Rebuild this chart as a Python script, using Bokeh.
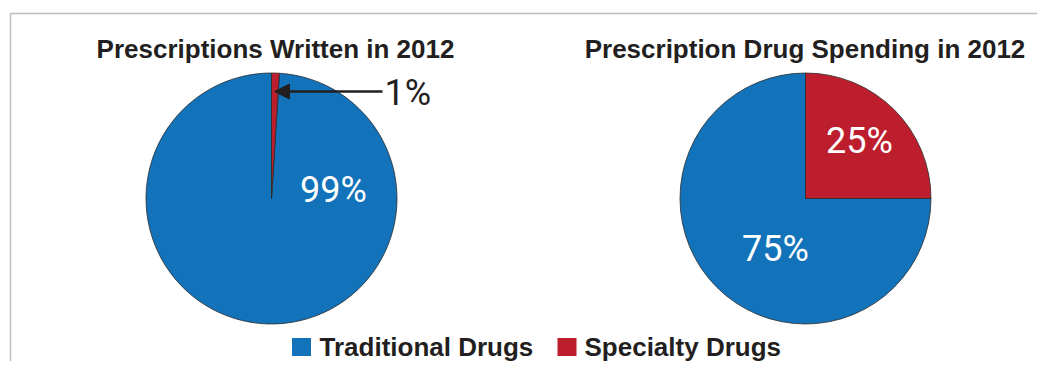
import math
from bokeh.plotting import figure
from bokeh.models import Range1d, Arrow, NormalHead, BoxAnnotation, ColumnDataSource
from bokeh.core.properties import value
from bokeh.embed import file_html
from bokeh.resources import INLINE

# ---- data ----
categories = ["Traditional Drugs", "Specialty Drugs"]
colors = ["#1273bb", "#bc1e2d"]
written_2012 = [99, 1]
spending_2012 = [75, 25]
titles = ["Prescriptions Written in 2012", "Prescription Drug Spending in 2012"]

# ---- layout (reference pixel coordinates) ----
W, H = 1037, 361
def Y(y):
    return H - y

pie_cx = [271, 805]
pie_cy = 198
pie_r = 125.5

p = figure(width=W, height=H, x_range=Range1d(0, W), y_range=Range1d(0, H),
           output_backend="svg", toolbar_location=None, min_border=0)
p.axis.visible = False
p.grid.visible = False
p.outline_line_color = None
p.background_fill_color = "white"
p.border_fill_color = "white"

# frame (left + top lines)
p.add_layout(BoxAnnotation(left=10, top=Y(13), right=1300, bottom=-200,
                           fill_alpha=0, line_color="#231f20", line_width=1.4))

label_font = value("Roboto")
title_font = value("Liberation Sans")

for i, vals in enumerate([written_2012, spending_2012]):
    total = float(sum(vals))
    frac_spec = vals[1] / total
    top = math.pi / 2
    starts = [top, top - 2 * math.pi * frac_spec]
    ends = [top - 2 * math.pi * frac_spec + 2 * math.pi, top]
    src = ColumnDataSource(dict(x=[pie_cx[i]] * 2, y=[Y(pie_cy)] * 2,
                                start=starts, end=ends, color=colors, cat=categories))
    p.wedge(x="x", y="y", radius=pie_r, start_angle="start", end_angle="end",
            fill_color="color", line_color="#2b2b2b", line_width=0.8, source=src)

# titles
p.text(x=[275, 804.5], y=[Y(48)] * 2, text=titles, text_font=title_font,
       text_font_style="bold", text_font_size="26px", text_color="#231f20",
       text_align="center", text_baseline="middle")

# in-slice labels (white)
lab_x = [333, 775, 859]
lab_y = [189, 248, 140]
lab_text = [f"{written_2012[0]}%", f"{spending_2012[0]}%", f"{spending_2012[1]}%"]
p.text(x=lab_x, y=[Y(v) for v in lab_y], text=lab_text, text_font=label_font,
       text_font_size="36px", text_color="white", text_align="center",
       text_baseline="middle")

# outside label for 1%
p.text(x=[384], y=[Y(92)], text=[f"{written_2012[1]}%"], text_font=label_font,
       text_font_size="36px", text_color="#231f20", text_align="left",
       text_baseline="middle")
p.add_layout(Arrow(end=NormalHead(size=15, fill_color="#231f20", line_color="#231f20"),
                   x_start=382, y_start=Y(91), x_end=274, y_end=Y(91),
                   line_color="#231f20", line_width=2.5))

# legend
leg_mid = 346.5
sq_x = [301, 566.5]
p.rect(x=sq_x, y=[Y(leg_mid)] * 2, width=19, height=18, fill_color=colors, line_color=None)
p.text(x=[319, 584], y=[Y(leg_mid)] * 2, text=categories, text_font=title_font,
       text_font_style="bold", text_font_size="26px", text_color="#231f20",
       text_align="left", text_baseline="middle")

open("out.html", "w").write(file_html(p, INLINE))
